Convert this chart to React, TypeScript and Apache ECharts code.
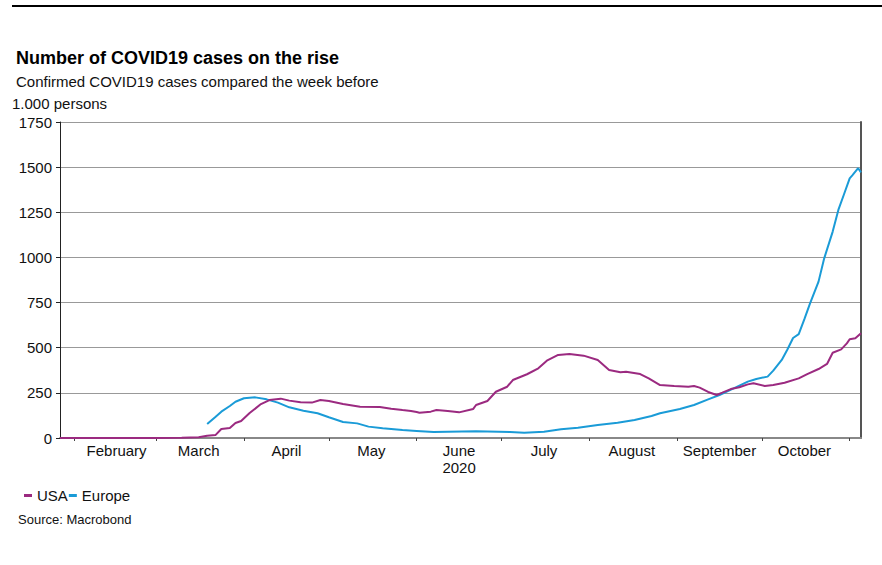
import React, { useEffect, useRef } from "react";
import * as echarts from "echarts";

// ---- data ----
const TITLE = "Number of COVID19 cases on the rise";
const SUBTITLE = "Confirmed COVID19 cases compared the week before";
const UNIT = "1.000 persons";
const SOURCE = "Source: Macrobond";

const FIRST_DAY = "2020-01-27";
const LAST_DAY = "2020-11-05";

const MONTH_NAMES = [
  "January", "February", "March", "April", "May", "June",
  "July", "August", "September", "October", "November", "December",
];

const Y_MIN = 0;
const Y_MAX = 1750;
const Y_STEP = 250;

const USA: [string, number][] = [
  ["2020-01-27", 0], ["2020-02-15", 0], ["2020-03-01", 0], ["2020-03-10", 1],
  ["2020-03-16", 4], ["2020-03-19", 13], ["2020-03-22", 17], ["2020-03-24", 50],
  ["2020-03-27", 55], ["2020-03-29", 83], ["2020-03-31", 94], ["2020-04-03", 138],
  ["2020-04-07", 188], ["2020-04-10", 210], ["2020-04-14", 218], ["2020-04-17", 207],
  ["2020-04-21", 198], ["2020-04-25", 196], ["2020-04-28", 210], ["2020-05-01", 205],
  ["2020-05-06", 188], ["2020-05-12", 173], ["2020-05-19", 172], ["2020-05-23", 162],
  ["2020-05-27", 155], ["2020-05-30", 150], ["2020-06-01", 144], ["2020-06-02", 140],
  ["2020-06-06", 146], ["2020-06-08", 155], ["2020-06-12", 150], ["2020-06-16", 142],
  ["2020-06-21", 161], ["2020-06-22", 183], ["2020-06-26", 205], ["2020-06-29", 256],
  ["2020-07-03", 284], ["2020-07-05", 321], ["2020-07-10", 353], ["2020-07-14", 386],
  ["2020-07-17", 428], ["2020-07-21", 460], ["2020-07-25", 465], ["2020-07-30", 456],
  ["2020-08-04", 432], ["2020-08-08", 377], ["2020-08-12", 364], ["2020-08-14", 367],
  ["2020-08-19", 354], ["2020-08-22", 330], ["2020-08-26", 293], ["2020-08-31", 288],
  ["2020-09-05", 284], ["2020-09-07", 288], ["2020-09-09", 279], ["2020-09-12", 255],
  ["2020-09-15", 238], ["2020-09-17", 251], ["2020-09-20", 271], ["2020-09-23", 281],
  ["2020-09-26", 297], ["2020-09-28", 303], ["2020-10-02", 288], ["2020-10-05", 293],
  ["2020-10-09", 306], ["2020-10-14", 330], ["2020-10-17", 354], ["2020-10-21", 382],
  ["2020-10-24", 410], ["2020-10-26", 472], ["2020-10-29", 491], ["2020-10-31", 524],
  ["2020-11-01", 547], ["2020-11-03", 552], ["2020-11-05", 580],
];

const EUROPE: [string, number][] = [
  ["2020-03-19", 77], ["2020-03-22", 118], ["2020-03-24", 146], ["2020-03-27", 177],
  ["2020-03-29", 201], ["2020-04-01", 220], ["2020-04-05", 225], ["2020-04-09", 214],
  ["2020-04-13", 196], ["2020-04-17", 170], ["2020-04-22", 151], ["2020-04-27", 137],
  ["2020-05-01", 115], ["2020-05-06", 89], ["2020-05-11", 81], ["2020-05-15", 63],
  ["2020-05-20", 54], ["2020-05-27", 44], ["2020-06-01", 39], ["2020-06-07", 33],
  ["2020-06-22", 37], ["2020-07-04", 33], ["2020-07-09", 29], ["2020-07-16", 35],
  ["2020-07-22", 48], ["2020-07-28", 57], ["2020-08-04", 72], ["2020-08-11", 85],
  ["2020-08-17", 100], ["2020-08-23", 122], ["2020-08-26", 137], ["2020-09-02", 161],
  ["2020-09-07", 183], ["2020-09-12", 214], ["2020-09-16", 238], ["2020-09-21", 275],
  ["2020-09-26", 312], ["2020-09-29", 327], ["2020-10-03", 340], ["2020-10-05", 373],
  ["2020-10-08", 432], ["2020-10-10", 490], ["2020-10-12", 554], ["2020-10-14", 575],
  ["2020-10-16", 658], ["2020-10-18", 746], ["2020-10-21", 866], ["2020-10-23", 995],
  ["2020-10-26", 1143], ["2020-10-28", 1263], ["2020-10-30", 1350], ["2020-11-01", 1438],
  ["2020-11-02", 1456], ["2020-11-04", 1494], ["2020-11-05", 1471],
];

// daily category axis (axis domain)
function buildDays(first: string, last: string): string[] {
  const out: string[] = [];
  const t0 = Date.parse(first + "T00:00:00Z");
  const t1 = Date.parse(last + "T00:00:00Z");
  for (let t = t0; t <= t1; t += 86400000) {
    out.push(new Date(t).toISOString().slice(0, 10));
  }
  return out;
}
const DAYS = buildDays(FIRST_DAY, LAST_DAY);

const FONT = "'Liberation Sans', Arial, Helvetica, sans-serif";
const USA_COLOR = "#9b2a80";
const EUROPE_COLOR = "#1a9bd7";

export default function App() {
  const ref = useRef<HTMLDivElement>(null);

  useEffect(() => {
    if (!ref.current) return;
    const chart = echarts.init(ref.current, undefined, { renderer: "svg" });

    const option: any = {
      animation: false,
      backgroundColor: "#ffffff",
      textStyle: { fontFamily: FONT },
      grid: { left: 60, right: 21, top: 122, bottom: 127 },
      legend: {
        left: 19,
        top: 483,
        icon: "rect",
        itemWidth: 8,
        itemHeight: 3,
        itemGap: 1,
        textStyle: { fontSize: 15, color: "#111", fontFamily: FONT },
        data: ["USA", "Europe"],
      },
      graphic: [
        {
          type: "line",
          shape: { x1: 12, y1: 6, x2: 882, y2: 6 },
          style: { stroke: "#000", lineWidth: 2 },
        },
        {
          type: "text",
          left: 16,
          top: 49,
          style: { text: TITLE, fontSize: 18, fontWeight: "bold", fill: "#000", fontFamily: FONT },
        },
        {
          type: "text",
          left: 16,
          top: 74,
          style: { text: SUBTITLE, fontSize: 15, fill: "#111", fontFamily: FONT },
        },
        {
          type: "text",
          left: 12,
          top: 96,
          style: { text: UNIT, fontSize: 15, fill: "#111", fontFamily: FONT },
        },
        {
          type: "text",
          left: 18,
          top: 513,
          style: { text: SOURCE, fontSize: 13, fill: "#111", fontFamily: FONT },
        },
      ],
      xAxis: {
        type: "category",
        data: DAYS,
        boundaryGap: false,
        axisLine: { show: true, lineStyle: { color: "#888", width: 2 } },
        axisTick: {
          show: true,
          interval: (_i: number, v: string) => v.endsWith("-01"),
          length: 3,
          lineStyle: { color: "#444", width: 1 },
        },
        axisLabel: {
          interval: (_i: number, v: string) => v.endsWith("-16"),
          formatter: (v: string) => {
            const m = parseInt(v.slice(5, 7), 10) - 1;
            const name = MONTH_NAMES[m];
            return m === 5 ? name + "\n" + v.slice(0, 4) : name;
          },
          fontSize: 15,
          lineHeight: 17,
          color: "#111",
          margin: 4,
          fontFamily: FONT,
        },
        splitLine: { show: false },
      },
      yAxis: [
        {
          type: "value",
          min: Y_MIN,
          max: Y_MAX,
          interval: Y_STEP,
          position: "left",
          axisLine: { show: true, lineStyle: { color: "#222", width: 1 } },
          axisTick: { show: true, length: 4, lineStyle: { color: "#222" } },
          axisLabel: {
            fontSize: 15,
            color: "#111",
            margin: 8,
            fontFamily: FONT,
            formatter: (v: number) => String(v),
          },
          splitLine: { show: true, lineStyle: { color: "#999", width: 1 } },
        },
        {
          type: "value",
          min: Y_MIN,
          max: Y_MAX,
          interval: Y_STEP,
          position: "right",
          axisLine: { show: true, lineStyle: { color: "#555", width: 2 } },
          axisTick: { show: false },
          axisLabel: { show: false },
          splitLine: { show: false },
        },
      ],
      series: [
        {
          name: "USA",
          type: "line",
          data: USA,
          showSymbol: false,
          symbol: "none",
          lineStyle: { color: USA_COLOR, width: 2 },
          itemStyle: { color: USA_COLOR },
          z: 3,
        },
        {
          name: "Europe",
          type: "line",
          data: EUROPE,
          showSymbol: false,
          symbol: "none",
          lineStyle: { color: EUROPE_COLOR, width: 2 },
          itemStyle: { color: EUROPE_COLOR },
          z: 2,
        },
      ],
    };

    chart.setOption(option);
    return () => chart.dispose();
  }, []);

  return <div ref={ref} style={{ width: 882, height: 565, position: "absolute", left: 0, top: 0 }} />;
}
